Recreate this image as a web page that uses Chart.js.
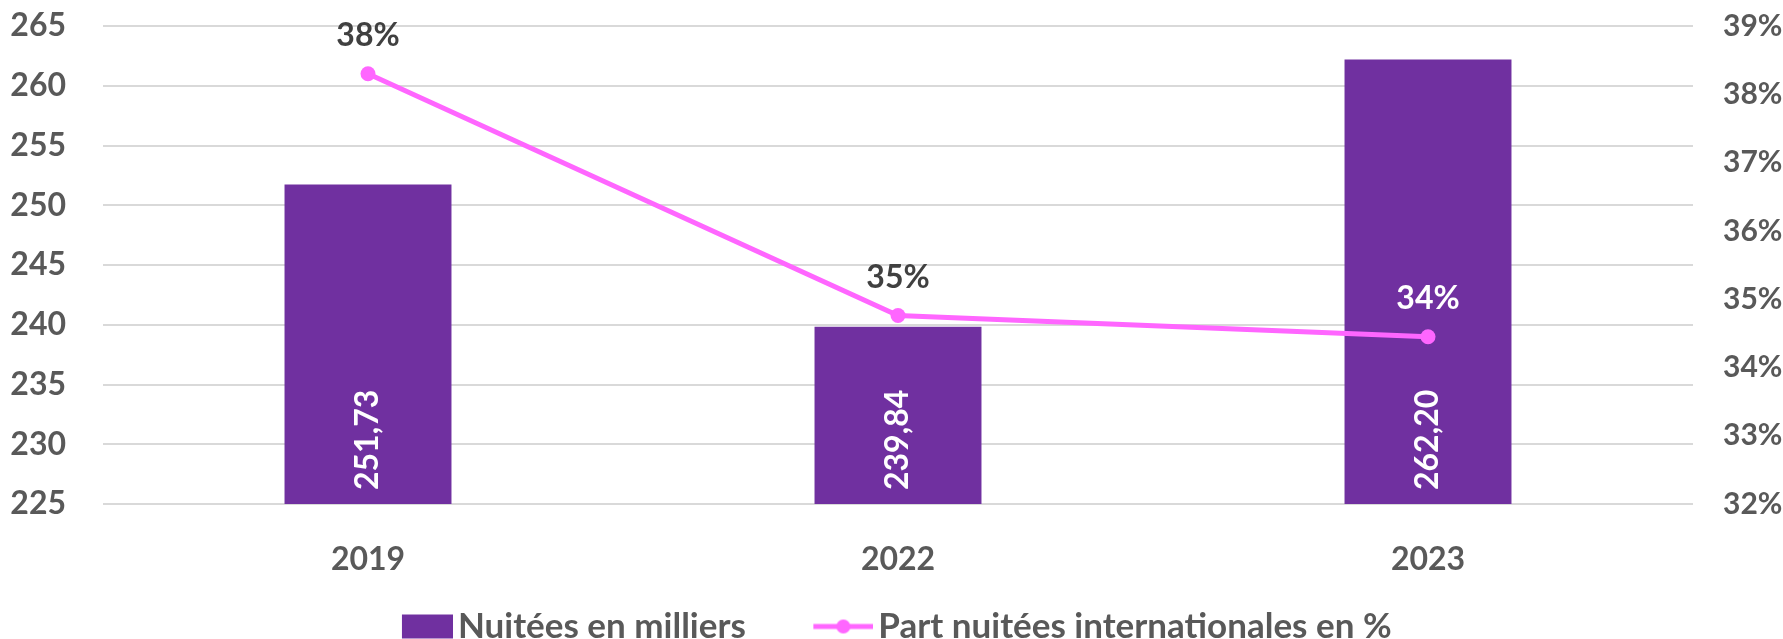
<!DOCTYPE html>
<html>
<head>
<meta charset="utf-8">
<script src="https://cdn.jsdelivr.net/npm/chart.js@4"></script>
<style>
  html, body { margin: 0; padding: 0; background: #ffffff; }
  #wrap { width: 1783px; height: 639px; }
</style>
</head>
<body>
<div id="wrap"><canvas id="nuiteesChart"></canvas></div>
<script>
// Données
const annees = ['2019', '2022', '2023'];
const nuitees = [251.73, 239.84, 262.20];            // en milliers
const partInternationale = [38.3, 34.76, 34.45];     // en %
const axeGauche = [225, 265, 5];                     // min, max, pas
const axeDroit = [32, 39, 1];                        // min, max, pas (%)

const violet = '#7030A0';
const rose = '#FF66FF';
const gris = '#595959';

Chart.defaults.font.family = 'Lato';
Chart.defaults.font.weight = 'bold';

// petites icônes pour la légende (bord droit = fin du symbole)
function iconeLegende(type) {
    const c = document.createElement('canvas');
    c.width = 130;
    c.height = 36;
    const g = c.getContext('2d');
    if (type === 'barre') {
        g.fillStyle = violet;
        g.fillRect(79, 6, 51, 24);
    } else {
        g.strokeStyle = rose;
        g.lineWidth = 5;
        g.beginPath();
        g.moveTo(70, 18);
        g.lineTo(130, 18);
        g.stroke();
        g.fillStyle = rose;
        g.beginPath();
        g.arc(100, 18, 7, 0, Math.PI * 2);
        g.fill();
    }
    return c;
}

// étiquettes de valeurs + petit décalage de la légende
const etiquettes = {
    id: 'etiquettes',
    afterLayout(chart) {
        // la légende d'origine n'est pas tout à fait centrée
        chart.legend.right -= 56;
    },
    afterDatasetsDraw(chart) {
        const ctx = chart.ctx;
        const bas = chart.chartArea.bottom;
        const barres = chart.getDatasetMeta(0).data;
        const points = chart.getDatasetMeta(1).data;
        ctx.save();
        ctx.font = 'bold 32px Lato';
        barres.forEach((b, i) => {
            ctx.save();
            ctx.translate(b.x, bas - 14);
            ctx.rotate(-Math.PI / 2);
            ctx.textAlign = 'left';
            ctx.textBaseline = 'middle';
            ctx.fillStyle = '#ffffff';
            ctx.fillText(nuitees[i].toFixed(2).replace('.', ','), 0, 0);
            ctx.restore();
        });
        points.forEach((p, i) => {
            const y = p.y - 38;
            const dansBarre = y > barres[i].y;
            ctx.fillStyle = dansBarre ? '#ffffff' : '#404040';
            ctx.textAlign = 'center';
            ctx.textBaseline = 'middle';
            ctx.fillText(Math.round(partInternationale[i]) + '%', p.x, y);
        });
        ctx.restore();
    }
};

const ctx = document.getElementById('nuiteesChart').getContext('2d');
const nuiteesChart = new Chart(ctx, {
    type: 'bar',
    data: {
        labels: annees,
        datasets: [
            {
                type: 'bar',
                label: 'Nuitées en milliers',
                data: nuitees,
                backgroundColor: violet,
                barPercentage: 0.315,
                categoryPercentage: 1,
                yAxisID: 'y',
                order: 2
            },
            {
                type: 'line',
                label: 'Part nuitées internationales en %',
                data: partInternationale,
                borderColor: rose,
                backgroundColor: rose,
                borderWidth: 5,
                pointRadius: 7.5,
                pointBorderWidth: 0,
                pointBackgroundColor: rose,
                tension: 0,
                yAxisID: 'y1',
                order: 1
            }
        ]
    },
    options: {
        responsive: true,
        maintainAspectRatio: false,
        animation: false,
        layout: { padding: { top: 26, bottom: -15, left: 0, right: 0 } },
        plugins: {
            tooltip: { enabled: false },
            legend: {
                position: 'bottom',
                labels: {
                    usePointStyle: true,
                    pointStyleWidth: 105,
                    padding: 10,
                    color: gris,
                    font: { size: 35, weight: 'bold' },
                    generateLabels: () => [
                        { text: 'Nuitées en milliers', pointStyle: iconeLegende('barre'), fontColor: gris, lineWidth: 0, hidden: false, datasetIndex: 0 },
                        { text: 'Part nuitées internationales en %', pointStyle: iconeLegende('ligne'), fontColor: gris, lineWidth: 0, hidden: false, datasetIndex: 1 }
                    ]
                }
            }
        },
        scales: {
            x: {
                grid: { display: false },
                border: { display: false },
                ticks: { color: gris, font: { size: 32 }, padding: 28 },
                afterFit: (s) => { s.height = 95; }
            },
            y: {
                position: 'left',
                min: axeGauche[0],
                max: axeGauche[1],
                ticks: { stepSize: axeGauche[2], color: gris, font: { size: 32 }, padding: 37 },
                grid: { color: '#d9d9d9', lineWidth: 2, drawTicks: false },
                border: { display: false },
                afterFit: (s) => { s.width = 103; s.paddingTop = 0; s.paddingBottom = 0; }
            },
            y1: {
                position: 'right',
                min: axeDroit[0],
                max: axeDroit[1],
                ticks: { stepSize: axeDroit[2], color: gris, font: { size: 30 }, padding: 30, callback: v => v + '%' },
                grid: { display: false, drawTicks: false },
                border: { display: false },
                afterFit: (s) => { s.width = 90; s.paddingTop = 0; s.paddingBottom = 0; }
            }
        }
    },
    plugins: [etiquettes]
});
</script>
</body>
</html>
